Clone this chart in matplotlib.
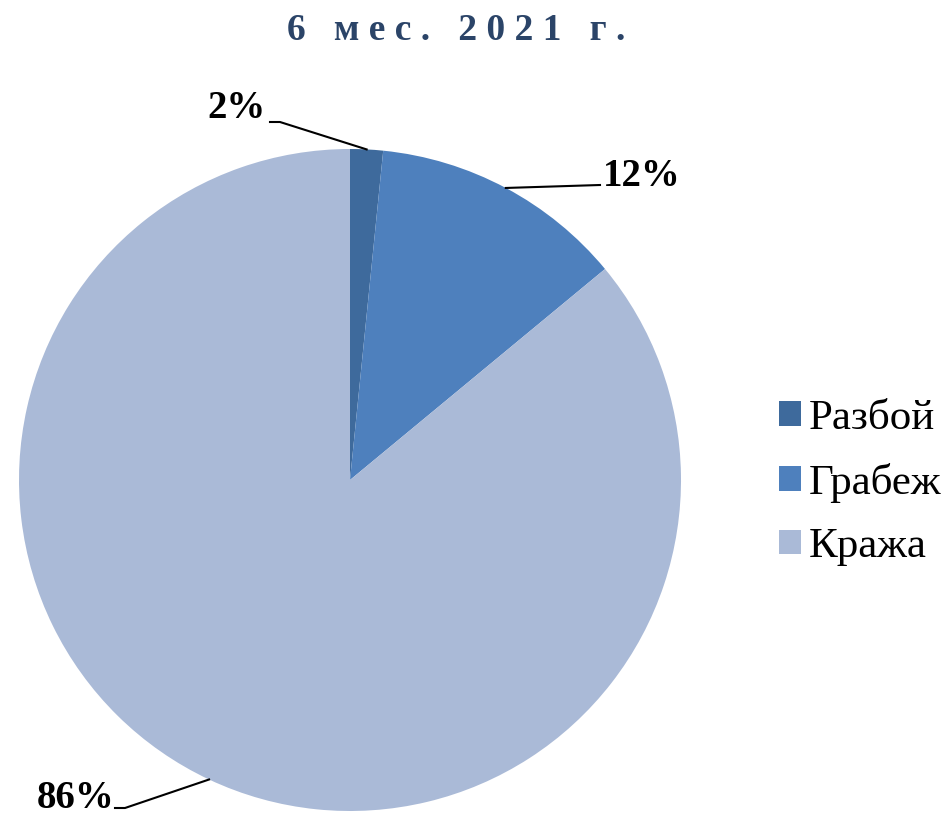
import numpy as np
import matplotlib.pyplot as plt

categories = ['Разбой', 'Грабеж', 'Кража']
values = [1.6, 12.4, 86.0]
colors = ['#3E6A9C', '#4E80BD', '#AABAD7']
title = '6 мес. 2021 г.'

W, H = 947, 822
plt.rcParams['font.family'] = ['Liberation Serif', 'DejaVu Serif']

fig = plt.figure(figsize=(W / 100, H / 100), dpi=100)
# pie centre (350, 480) px, radius 331 px
cx, cy, r = 350, 480, 331
ax = fig.add_axes([(cx - r) / W, (H - cy - r) / H, 2 * r / W, 2 * r / H])
wedges, _ = ax.pie(values, colors=colors, startangle=90, counterclock=False,
                   radius=1, wedgeprops=dict(linewidth=0))
ax.set_xlim(-1, 1)
ax.set_ylim(-1, 1)
ax.set_aspect('equal')


def px(x, y):
    return (x - cx) / r, (cy - y) / r


# label layout: (elbow point, end point, text position, ha)
layout = [
    ((280, 122), (270, 122), (266, 108), 'right'),
    ((600, 185), (600, 185), (603, 176), 'left'),
    ((125, 808), (115, 808), (115, 798), 'right'),
]
total = sum(values)
for w, v, (elb, end, tp, ha) in zip(wedges, values, layout):
    ang = np.deg2rad((w.theta1 + w.theta2) / 2)
    sx, sy = np.cos(ang), np.sin(ang)
    ex, ey = px(*elb)
    fx, fy = px(*end)
    ax.plot([sx, ex, fx], [sy, ey, fy], color='black', lw=1.5, clip_on=False)
    tx, ty = px(*tp)
    ax.text(tx, ty, f'{v / total * 100:.0f}%', ha=ha, va='center',
            fontsize=28, fontweight='bold', clip_on=False)

# wide letter spacing like the original title
spaced = '   '.join(' '.join(word) for word in title.split(' '))
fig.text(456 / W, 1 - 31 / H, spaced, ha='center', va='center', fontsize=27,
         fontweight='bold', color='#2B4468')

leg = fig.legend(wedges, categories, loc='center left',
                 bbox_to_anchor=(779 / W, 1 - 483 / H), frameon=False,
                 fontsize=31, handlelength=0.5, handleheight=0.5,
                 handletextpad=0.2, labelspacing=0.58, borderpad=0,
                 borderaxespad=0)

fig.savefig('out.png', dpi=100)
